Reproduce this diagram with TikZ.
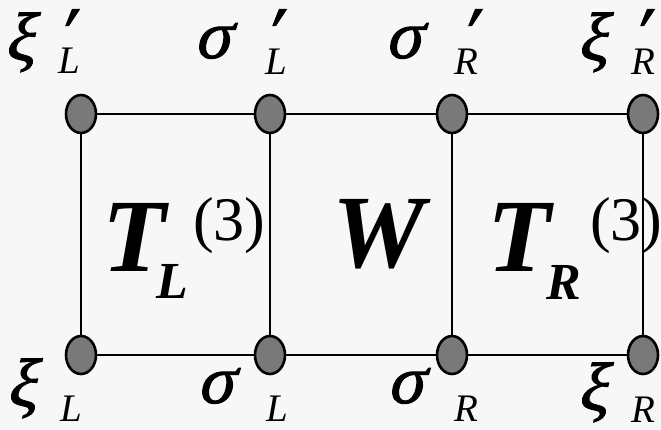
\documentclass[tikz,border=0pt]{standalone}
\usepackage{fontspec}
\setmainfont{Liberation Serif}
\newfontfamily\grk[FakeSlant=0.22,FakeBold=1.6]{Liberation Serif}
\newfontfamily\prmfont[FakeSlant=0.3,FakeBold=2]{Liberation Serif}
\usetikzlibrary{shapes.geometric}
\tikzset{
  site/.style={ellipse, draw=black, line width=2.6pt, fill=gray!60!black!75, minimum width=30pt, minimum height=38pt, inner sep=0pt},
  bond/.style={line width=2.4pt, black},
  labxi/.style={anchor=base west, inner sep=0pt, font=\fontsize{68}{68}\selectfont\grk},
  labsig/.style={anchor=base west, inner sep=0pt, font=\fontsize{68}{68}\selectfont\grk},
  sub/.style={anchor=base west, inner sep=0pt, font=\fontsize{39}{39}\selectfont\itshape},
  prm/.style={anchor=base west, inner sep=0pt, font=\fontsize{68}{68}\selectfont\prmfont},
  big/.style={anchor=base west, inner sep=0pt, font=\fontsize{104}{104}\selectfont\bfseries\itshape},
  bigsub/.style={anchor=base west, inner sep=0pt, font=\fontsize{52}{52}\selectfont\bfseries\itshape},
  sup/.style={anchor=base west, inner sep=0pt, font=\fontsize{62}{62}\selectfont},
}
\begin{document}
\begin{tikzpicture}[x=1pt,y=-1pt]
\useasboundingbox (0,0) rectangle (661,429);
\fill[gray!6] (0,0) rectangle (661,429);
% sites
\node[site] (a1) at (81,114) {};
\node[site] (a2) at (270,114) {};
\node[site] (a3) at (452,114) {};
\node[site] (a4) at (643,114) {};
\node[site] (b1) at (81,355) {};
\node[site] (b2) at (270,355) {};
\node[site] (b3) at (452,355) {};
\node[site] (b4) at (643,355) {};
% bonds
\draw[bond] (a1) -- (a2);
\draw[bond] (a2) -- (a3);
\draw[bond] (a3) -- (a4);
\draw[bond] (b1) -- (b2);
\draw[bond] (b2) -- (b3);
\draw[bond] (b3) -- (b4);
\draw[bond] (a1) -- (b1);
\draw[bond] (a2) -- (b2);
\draw[bond] (a3) -- (b3);
\draw[bond] (a4) -- (b4);
% top labels
\node[labxi] (t1) at (4,60) {ξ};
\node[prm] (t1p) at (54,54) {\smash{′}};
\node[sub] (t1s) at (58,73) {\smash{L}};
\node[labsig] (t2) at (194,58) {σ};
\node[prm] (t2p) at (261,54) {\smash{′}};
\node[sub] (t2s) at (265,74) {\smash{L}};
\node[labsig] (t3) at (385,58) {σ};
\node[prm] (t3p) at (457,54) {\smash{′}};
\node[sub] (t3s) at (454,74) {\smash{R}};
\node[labxi] (t4) at (577,60) {ξ};
\node[prm] (t4p) at (629,54) {\smash{′}};
\node[sub] (t4s) at (631,74) {\smash{R}};
% bottom labels
\node[labxi] (u1) at (6,406) {ξ};
\node[sub] (u1s) at (60,421) {\smash{L}};
\node[labsig] (u2) at (197,403) {σ};
\node[sub] (u2s) at (266,421) {\smash{L}};
\node[labsig] (u3) at (387,403) {σ};
\node[sub] (u3s) at (454,421) {\smash{R}};
\node[labxi] (u4) at (577,410) {ξ};
\node[sub] (u4s) at (631,422) {\smash{R}};
% centre labels
\node[big] (TL) at (102,271) {T};
\node[bigsub] (TLs) at (156,298) {L};
\node[sup] (TLu) at (193,240) {(3)};
\node[big] (W) at (332,267) {W};
\node[big] (TR) at (487,271) {T};
\node[bigsub] (TRs) at (546,299) {R};
\node[sup] (TRu) at (590,240) {(3)};
\end{tikzpicture}
\end{document}
